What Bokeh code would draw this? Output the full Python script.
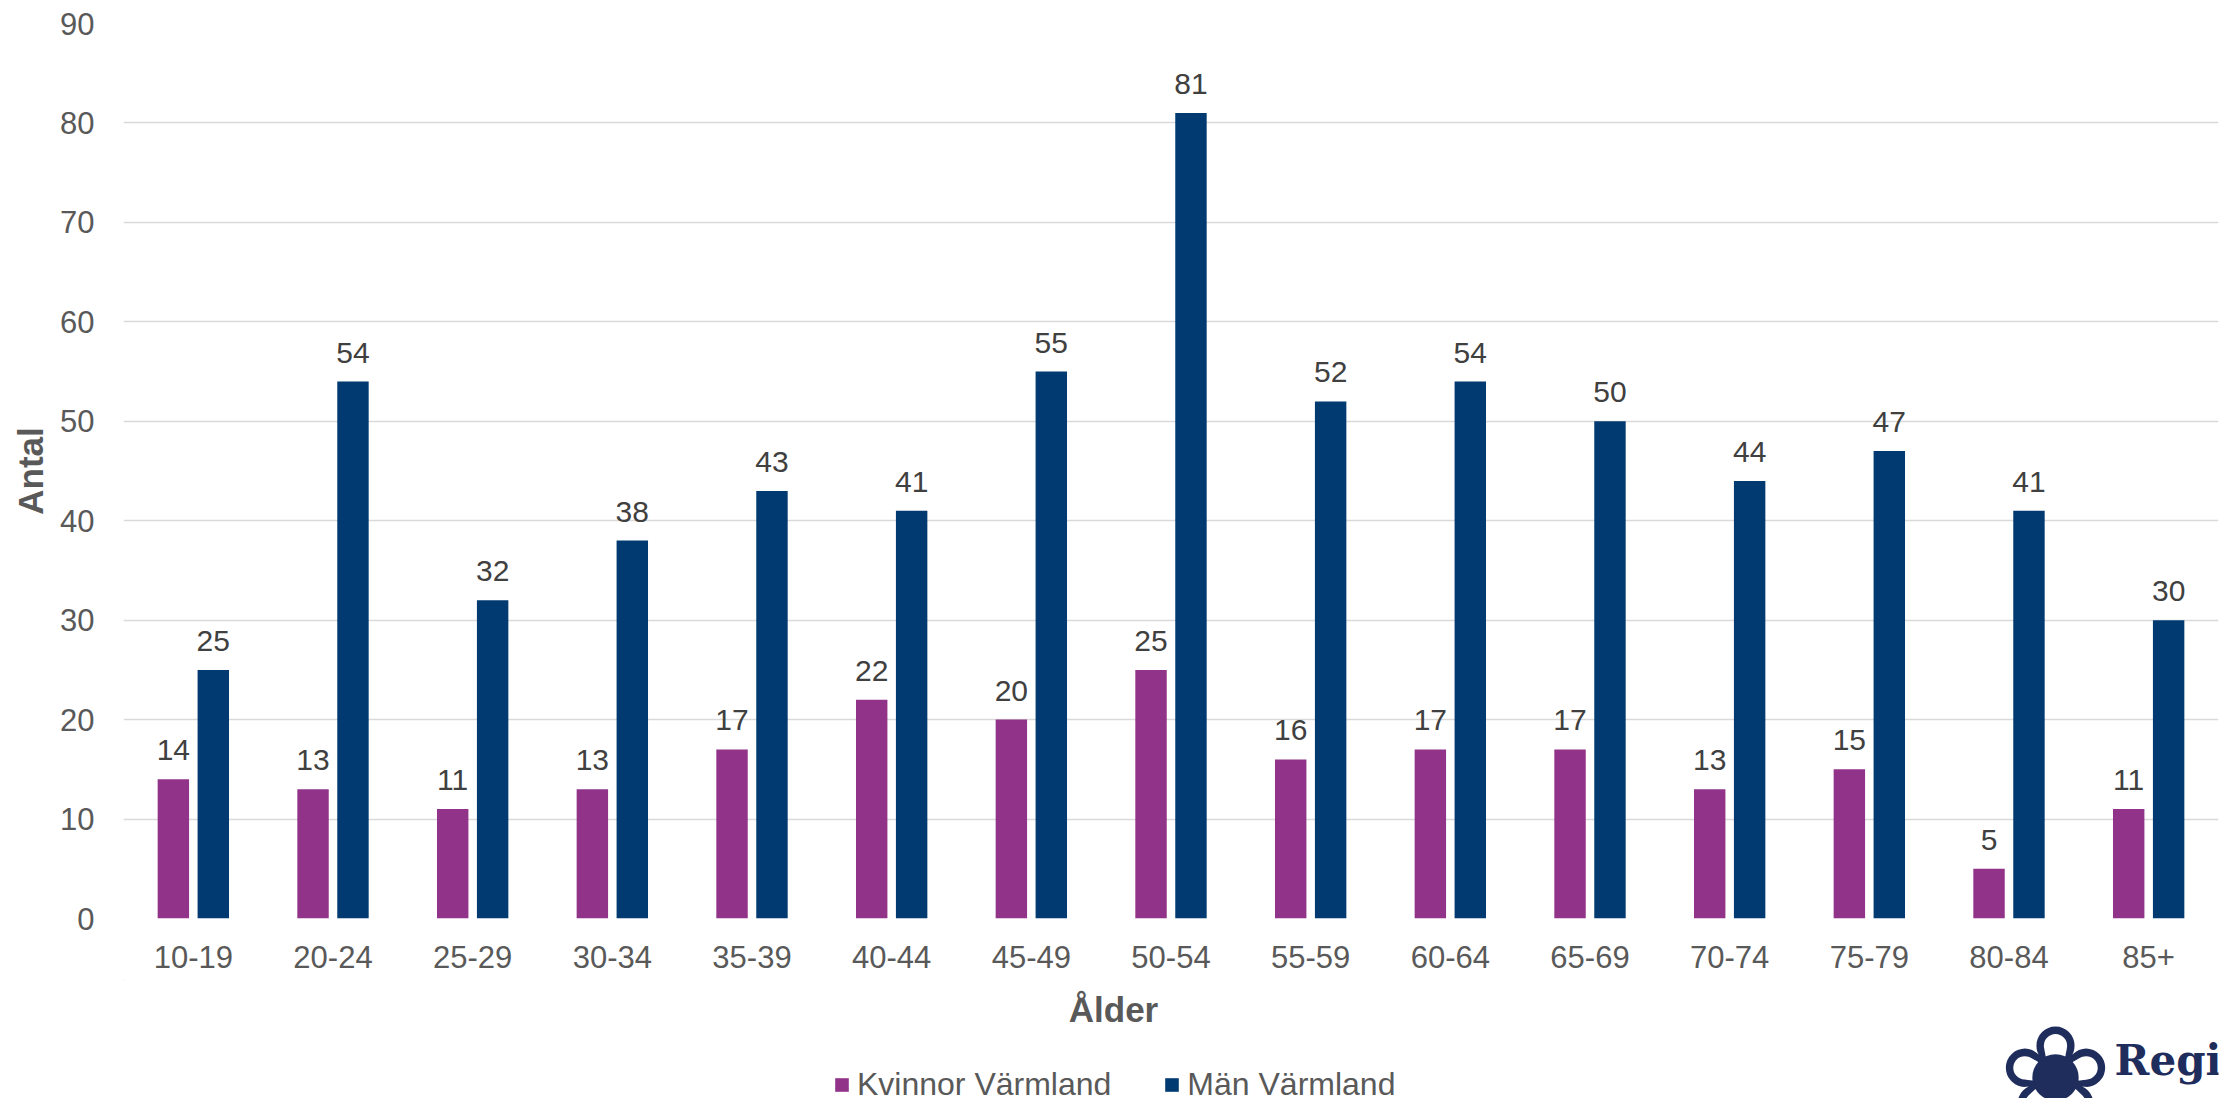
from bokeh.plotting import figure
from bokeh.models import ColumnDataSource, FactorRange, Range1d, Legend, LegendItem, Label
from bokeh.layouts import column
from bokeh.transform import dodge
from bokeh.core.properties import value
from bokeh.embed import file_html
from bokeh.resources import INLINE

categories = ["10-19", "20-24", "25-29", "30-34", "35-39", "40-44", "45-49", "50-54",
              "55-59", "60-64", "65-69", "70-74", "75-79", "80-84", "85+"]
kvinnor = [14, 13, 11, 13, 17, 22, 20, 25, 16, 17, 17, 13, 15, 5, 11]
man = [25, 54, 32, 38, 43, 41, 55, 81, 52, 54, 50, 44, 47, 41, 30]
y_ticks = [0, 10, 20, 30, 40, 50, 60, 70, 80, 90]
series_names = ["Kvinnor Värmland", "Män Värmland"]

PURPLE = "#92338A"
BLUE = "#003A70"
GREY = "#595959"
NAVY = "#1F2D5C"
FONT = "Liberation Sans"

source = ColumnDataSource(data=dict(
    cat=categories,
    kv=kvinnor,
    ma=man,
    kv_txt=[str(v) for v in kvinnor],
    ma_txt=[str(v) for v in man],
))

W = 2232
H_MAIN = 980
H_FOOT = 118
FRAME_L = 123
FRAME_R = 2218

p = figure(
    width=W, height=H_MAIN,
    x_range=FactorRange(factors=categories, range_padding=0),
    y_range=Range1d(0, 90),
    output_backend="svg", toolbar_location=None,
    min_border_left=FRAME_L, min_border_right=W - FRAME_R, min_border_top=23,
    min_border_bottom=H_MAIN - 918,
)
p.outline_line_color = None

off = 0.143
bw = 0.225
r_kv = p.vbar(x=dodge("cat", -off, range=p.x_range), top="kv", width=bw, source=source,
              fill_color=PURPLE, line_color=None)
r_ma = p.vbar(x=dodge("cat", off, range=p.x_range), top="ma", width=bw, source=source,
              fill_color=BLUE, line_color=None)

p.text(x=dodge("cat", -off, range=p.x_range), y="kv", text="kv_txt", source=source,
       text_align="center", text_baseline="alphabetic", y_offset=-29,
       text_font=value(FONT), text_font_size="30px", text_color="#404040")
p.text(x=dodge("cat", off, range=p.x_range), y="ma", text="ma_txt", source=source,
       text_align="center", text_baseline="alphabetic", y_offset=-29,
       text_font=value(FONT), text_font_size="30px", text_color="#404040")

p.xgrid.grid_line_color = None
p.ygrid.grid_line_color = "#D9D9D9"
p.ygrid.grid_line_width = 1.3
p.yaxis.ticker = y_ticks

for ax in (p.xaxis, p.yaxis):
    ax.axis_line_color = None
    ax.major_tick_line_color = None
    ax.minor_tick_line_color = None
    ax.major_tick_out = 0
    ax.major_tick_in = 0
    ax.major_label_text_font = FONT
    ax.major_label_text_font_size = "31px"
    ax.major_label_text_color = GREY

p.xaxis.major_label_standoff = 27
p.yaxis.major_label_standoff = 29
p.yaxis.axis_label = "Antal"
p.yaxis.axis_label_text_font = FONT
p.yaxis.axis_label_text_font_size = "35px"
p.yaxis.axis_label_text_font_style = "bold"
p.yaxis.axis_label_text_color = GREY
p.yaxis.axis_label_standoff = 7

# footer: x-axis title, legend and logo (data coordinates = page pixels;
# the column aligns this frame with the main frame)
f = figure(
    width=W, height=H_FOOT,
    x_range=Range1d(FRAME_L, FRAME_R), y_range=Range1d(H_MAIN + H_FOOT, H_MAIN),
    output_backend="svg", toolbar_location=None,
    x_axis_type=None, y_axis_type=None,
    min_border_left=FRAME_L, min_border_right=W - FRAME_R, min_border_top=0, min_border_bottom=0,
)
f.outline_line_color = None
f.grid.grid_line_color = None

f.add_layout(Label(x=1113, y=1009, text="Ålder", text_align="center",
                   text_baseline="alphabetic", text_font=FONT, text_font_size="35px",
                   text_font_style="bold", text_color=GREY))

# legend swatch proxies (zero-size, outside the visible range)
lk = f.vbar(x=[0], top=[0], bottom=[0], width=0, fill_color=PURPLE, line_color=None)
lm = f.vbar(x=[0], top=[0], bottom=[0], width=0, fill_color=BLUE, line_color=None)
legend = Legend(items=[LegendItem(label=series_names[0], renderers=[lk]),
                       LegendItem(label=series_names[1], renderers=[lm])],
                orientation="horizontal", location=(833 - FRAME_L, -5),
                glyph_width=17, glyph_height=17, label_standoff=7, spacing=52,
                padding=0, margin=0, border_line_color=None, background_fill_alpha=0,
                label_text_font=FONT, label_text_font_size="32px",
                label_text_color=GREY)
f.add_layout(legend, "center")

f.add_layout(Label(x=2055, y=1075, text="❀", text_align="center", text_baseline="middle",
                   text_font="DejaVu Sans", text_font_size="136px", text_color=NAVY))
f.add_layout(Label(x=2114, y=1060, text="Region", text_align="left",
                   text_baseline="alphabetic", text_font="DejaVu Serif", text_font_size="42px",
                   text_font_style="bold", text_color=NAVY))

layout = column(p, f, spacing=0)
open("out.html", "w").write(file_html(layout, INLINE))
